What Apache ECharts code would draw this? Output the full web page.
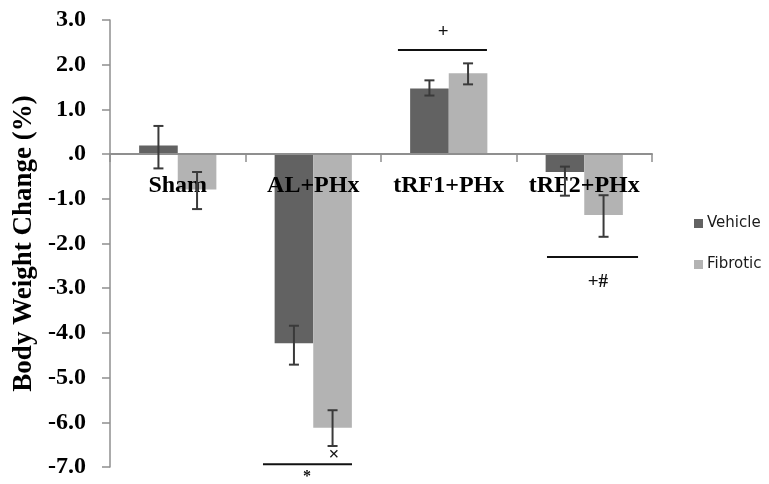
<!DOCTYPE html>
<html>
<head>
<meta charset="utf-8">
<script src="https://cdn.jsdelivr.net/npm/echarts@6/dist/echarts.min.js"></script>
<style>html,body{margin:0;padding:0;background:#fff}#c{width:769px;height:484px}</style>
</head>
<body>
<div id="c"></div>
<script>
const categories = ['Sham', 'AL+PHx', 'tRF1+PHx', 'tRF2+PHx'];
const seriesNames = ['Vehicle', 'Fibrotic'];
const vehicle = [0.19, -4.23, 1.47, -0.40];
const fibrotic = [-0.79, -6.12, 1.81, -1.36];
const vehicleErrHigh = [0.63, -3.84, 1.65, -0.28];
const vehicleErrLow = [-0.32, -4.71, 1.31, -0.93];
const fibroticErrHigh = [-0.40, -5.73, 2.03, -0.92];
const fibroticErrLow = [-1.23, -6.53, 1.56, -1.85];
const yMin = -7, yMax = 3, yStep = 1;
// significance annotations (category index, value)
const annotLines = [
  {cat: 2, y: 2.33, x0: -0.375, x1: 0.282},
  {cat: 3, y: -2.30, x0: -0.275, x1: 0.397},
  {cat: 1, y: -6.94, x0: -0.371, x1: 0.286}
];
const annotTexts = [
  {cat: 2, y: 2.73, dx: -0.042, text: '+'},
  {cat: 3, y: -2.86, dx: 0.10, text: '+#'},
  {cat: 1, y: -7.23, dx: -0.046, text: '*'},
  {cat: 1, y: -6.73, dx: 0.153, text: '×'}
];

const CAT_GAP = 0.43;
const serif = 'Liberation Serif';
const axisGray = '#8f8f8f';

function errSeries(name, low, high, sign) {
  return {
    type: 'custom',
    name: name + ' err',
    z: 12,
    silent: true,
    encode: {x: 0, y: [1, 2]},
    data: categories.map((c, i) => [i, low[i], high[i]]),
    renderItem: function (params, api) {
      const band = api.size([1, 0])[0];
      const barW = band * (1 - CAT_GAP) / 2;
      const p1 = api.coord([api.value(0), api.value(1)]);
      const p2 = api.coord([api.value(0), api.value(2)]);
      const x = p1[0] + sign * barW / 2;
      const cap = 5;
      const st = {stroke: '#3a3a3a', lineWidth: 2};
      return {type: 'group', children: [
        {type: 'line', shape: {x1: x, y1: p1[1], x2: x, y2: p2[1]}, style: st},
        {type: 'line', shape: {x1: x - cap, y1: p1[1], x2: x + cap, y2: p1[1]}, style: st},
        {type: 'line', shape: {x1: x - cap, y1: p2[1], x2: x + cap, y2: p2[1]}, style: st}
      ]};
    }
  };
}

const chart = echarts.init(document.getElementById('c'), null, {renderer: 'canvas'});
chart.setOption({
  animation: false,
  backgroundColor: '#ffffff',
  grid: {left: 110, right: 117, top: 20, bottom: 17, containLabel: false, outerBoundsMode: 'none'},
  legend: {
    orient: 'vertical', left: 689, top: 211,
    itemWidth: 9, itemHeight: 9, itemGap: 26,
    icon: 'rect',
    data: seriesNames,
    textStyle: {fontFamily: 'DejaVu Sans', fontSize: 15, color: '#1a1a1a', padding: [0, 0, 0, -1]}
  },
  xAxis: {
    type: 'category',
    data: categories,
    z: 10,
    axisLine: {onZero: true, lineStyle: {color: axisGray, width: 2}},
    axisTick: {show: true, length: 8, lineStyle: {color: axisGray, width: 1.5}},
    axisLabel: {show: false}
  },
  yAxis: {
    type: 'value',
    min: yMin, max: yMax, interval: yStep,
    name: 'Body Weight Change (%)',
    nameLocation: 'middle',
    nameGap: 72,
    nameTextStyle: {fontFamily: serif, fontWeight: 'bold', fontSize: 27, color: '#000'},
    splitLine: {show: false},
    axisLine: {show: true, lineStyle: {color: axisGray, width: 1.5}},
    axisTick: {show: true, length: 8, lineStyle: {color: axisGray, width: 1.5}},
    axisLabel: {
      margin: 24, fontFamily: serif, fontWeight: 'bold', fontSize: 24, color: '#000',
      formatter: v => (v === 0 ? '.0' : v.toFixed(1))
    }
  },
  series: [
    {name: 'Vehicle', type: 'bar', data: vehicle, barGap: '0%', barCategoryGap: (CAT_GAP * 100) + '%',
     itemStyle: {color: '#626262'}, z: 2},
    {name: 'Fibrotic', type: 'bar', data: fibrotic, barGap: '0%', barCategoryGap: (CAT_GAP * 100) + '%',
     itemStyle: {color: '#b3b3b3'}, z: 2},
    {
      type: 'custom', name: 'categoryLabels', z: 8, silent: true, clip: false,
      encode: {x: 0, y: 1},
      data: categories.map((c, i) => [i, 0]),
      renderItem: function (params, api) {
        const p = api.coord([api.value(0), api.value(1)]);
        return {type: 'text', x: p[0], y: p[1] + 32,
                style: {text: categories[params.dataIndex], fontFamily: serif, fontWeight: 'bold', fontSize: 24,
                        fill: '#000', align: 'center', verticalAlign: 'middle'}};
      }
    },
    errSeries('Vehicle', vehicleErrLow, vehicleErrHigh, -1),
    errSeries('Fibrotic', fibroticErrLow, fibroticErrHigh, 1),
    {
      type: 'custom', name: 'annotLines', z: 12, silent: true, clip: false,
      encode: {x: 0, y: 1},
      data: annotLines.map(a => [a.cat, a.y]),
      renderItem: function (params, api) {
        const a = annotLines[params.dataIndex];
        const band = api.size([1, 0])[0];
        const p = api.coord([api.value(0), api.value(1)]);
        return {type: 'line', shape: {x1: p[0] + a.x0 * band, y1: p[1], x2: p[0] + a.x1 * band, y2: p[1]},
                style: {stroke: '#111', lineWidth: 2}};
      }
    },
    {
      type: 'custom', name: 'annotTexts', z: 12, silent: true, clip: false,
      encode: {x: 0, y: 1},
      data: annotTexts.map(a => [a.cat, a.y]),
      renderItem: function (params, api) {
        const a = annotTexts[params.dataIndex];
        const band = api.size([1, 0])[0];
        const p = api.coord([api.value(0), api.value(1)]);
        return {type: 'text', x: p[0] + a.dx * band, y: p[1],
                style: {text: a.text, fontFamily: serif, fontWeight: 'bold', fontSize: a.text === '*' ? 16 : 19,
                        fill: '#111', align: 'center', verticalAlign: 'middle'}};
      }
    }
  ]
});
</script>
</body>
</html>
